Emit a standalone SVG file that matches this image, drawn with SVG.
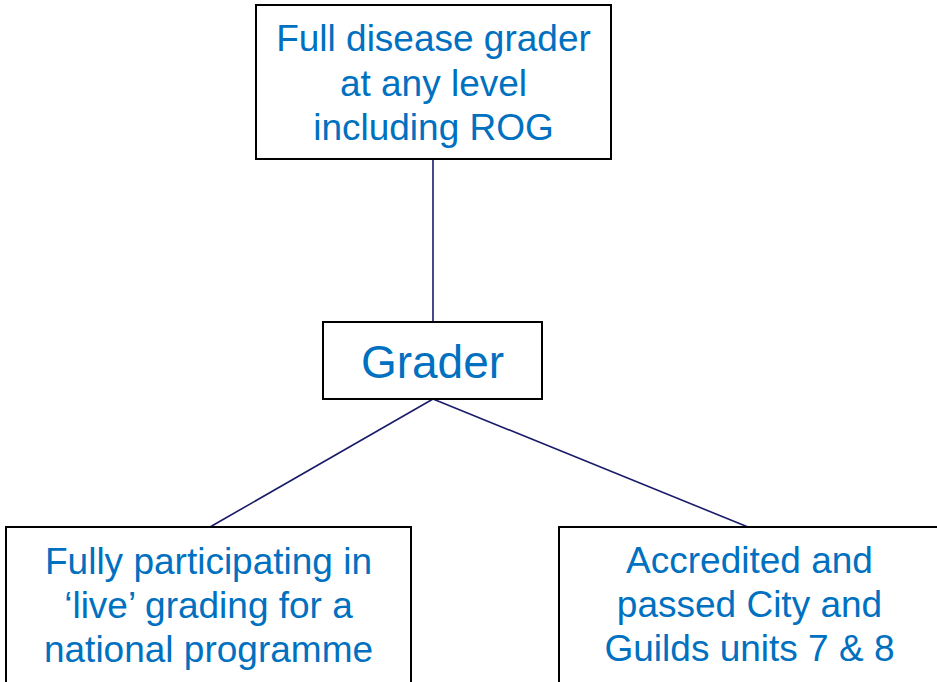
<svg xmlns="http://www.w3.org/2000/svg" width="937" height="682" viewBox="0 0 937 682">
<style>
.box{fill:#ffffff;stroke:#000000;stroke-width:2}
.t{font-family:"Liberation Sans",Arial,sans-serif;fill:#0070C0;text-anchor:middle}
.c{stroke:#1B1B6B;stroke-width:1.6;fill:none}
</style>
<rect width="937" height="682" fill="#ffffff"/>
<g id="connectors">
<line class="c" x1="433" y1="159" x2="433" y2="322"/>
<line class="c" x1="433" y1="399" x2="210" y2="527"/>
<line class="c" x1="433" y1="399" x2="748" y2="527"/>
</g>
<g id="top">
<rect class="box" x="256" y="5" width="355" height="154"/>
<text class="t" font-size="37"><tspan x="433.5" y="51">Full disease grader</tspan><tspan x="433.5" y="96">at any level</tspan><tspan x="433.5" y="140">including ROG</tspan></text>
</g>
<g id="grader">
<rect class="box" x="323" y="322" width="219" height="77"/>
<text class="t" font-size="46" x="432.5" y="378">Grader</text>
</g>
<g id="left">
<rect class="box" x="6" y="527" width="405" height="170"/>
<text class="t" font-size="37"><tspan x="208.5" y="574">Fully participating in</tspan><tspan x="208.5" y="618">‘live’ grading for a</tspan><tspan x="208.5" y="662">national programme</tspan></text>
</g>
<g id="right">
<rect class="box" x="559" y="527" width="390" height="170"/>
<text class="t" font-size="37"><tspan x="749.5" y="573">Accredited and</tspan><tspan x="749.5" y="617">passed City and</tspan><tspan x="749.5" y="661">Guilds units 7 &amp; 8</tspan></text>
</g>
</svg>
